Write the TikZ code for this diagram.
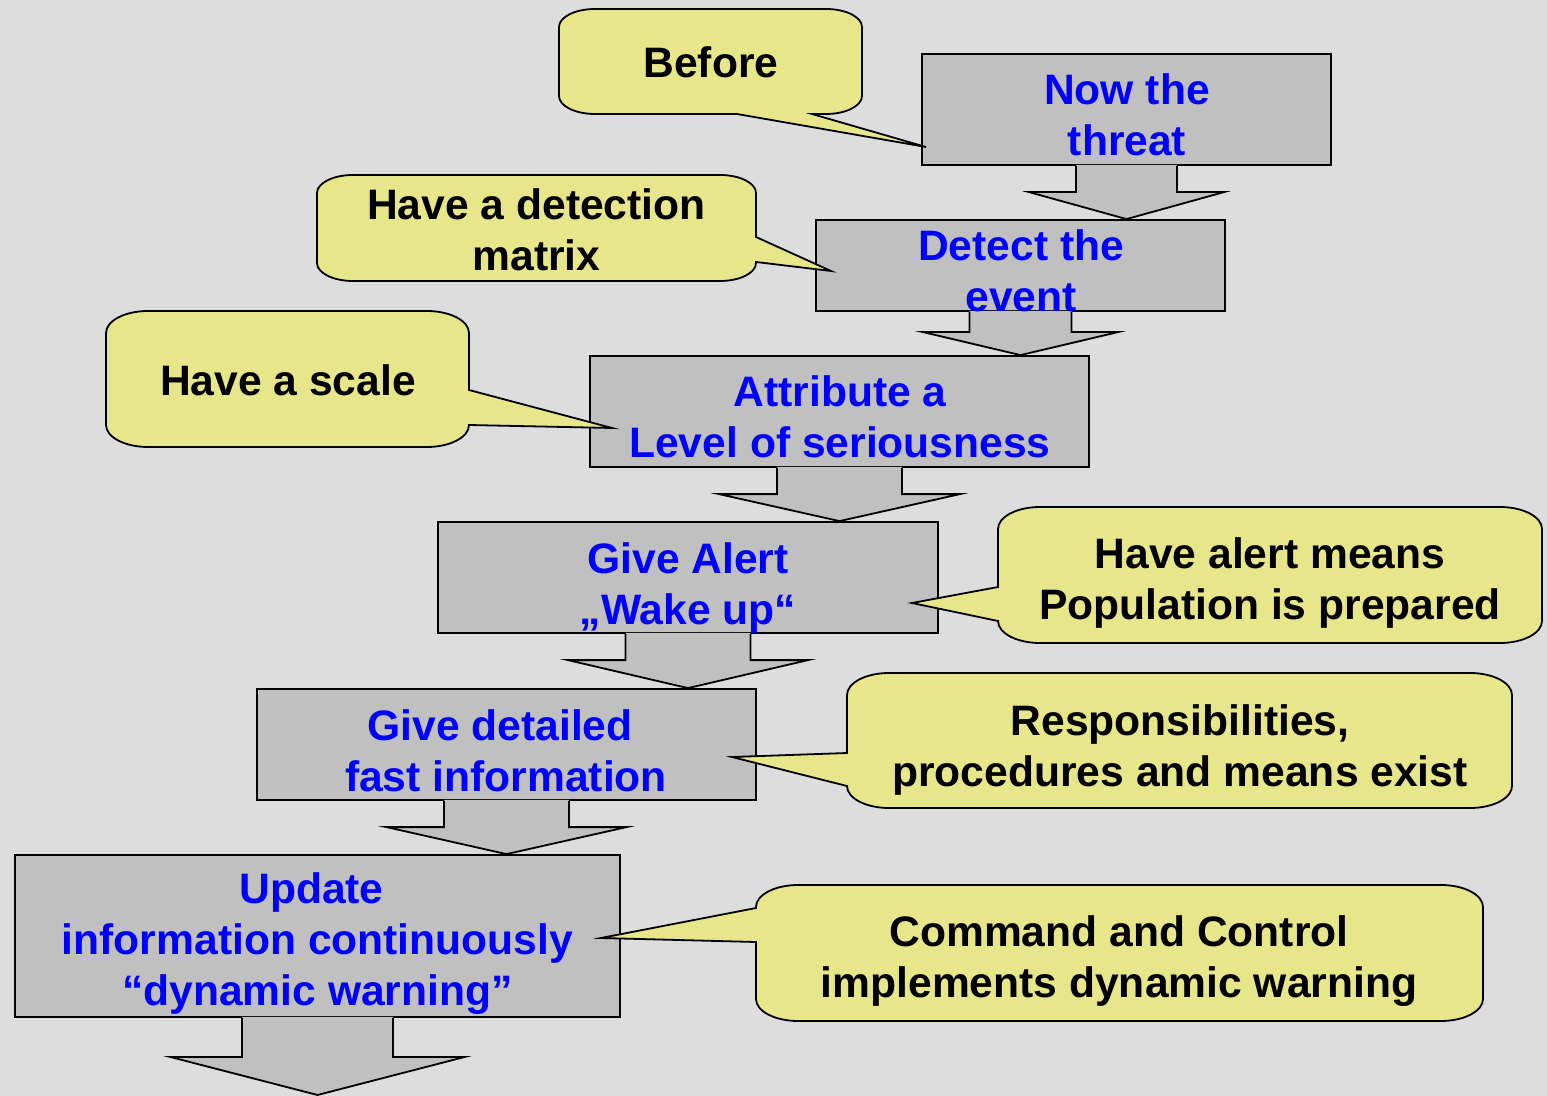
\documentclass[tikz,border=0pt]{standalone}
\usepackage{fontspec}
\setmainfont{Liberation Sans}
\usetikzlibrary{calc,fit}
\definecolor{bg}{HTML}{DDDDDD}
\definecolor{boxgray}{HTML}{C0C0C0}
\definecolor{callyellow}{HTML}{E8E68A}
\definecolor{txtblue}{HTML}{0000FF}
\tikzset{
  box/.style={draw=black, fill=boxgray, line width=0.9pt, inner sep=0pt},
  callout/.style={draw=black, fill=callyellow, line width=0.9pt, line join=miter},
  arrline/.style={draw=black, line width=0.9pt, line join=miter},
  btext/.style={font=\fontsize{21.3}{25.5}\selectfont\bfseries, text=txtblue, align=center, anchor=base, inner sep=0pt},
  ktext/.style={btext, text=black},
  rs/.style={x radius=36, y radius=18},
  rl/.style={x radius=42, y radius=22},
}
\newcommand\blockarr[5]{%
  \coordinate (tmpT) at (#1.south |- #2);
  \fill[boxgray] ($(#1.south)+(-#3,1)$) -- ($(tmpT)+(-#3,#5)$) -- ($(tmpT)+(-#4,#5)$) -- (tmpT) -- ($(tmpT)+(#4,#5)$) -- ($(tmpT)+(#3,#5)$) -- ($(#1.south)+(#3,1)$) -- cycle;
  \draw[arrline] ($(#1.south)+(-#3,0)$) -- ($(tmpT)+(-#3,#5)$) -- ($(tmpT)+(-#4,#5)$) -- (tmpT) -- ($(tmpT)+(#4,#5)$) -- ($(tmpT)+(#3,#5)$) -- ($(#1.south)+(#3,0)$);
}
\begin{document}
\begin{tikzpicture}[x=0.5pt,y=0.5pt]
\useasboundingbox (0,0) rectangle (1547,-1096);
\fill[bg] (0,0) rectangle (1547,-1096);

% process boxes
\node[box, fit={(922,-54) (1331,-165)}] (b1) {};
\node[box, fit={(816,-220) (1225,-311)}] (b2) {};
\node[box, fit={(590,-356) (1089,-467)}] (b3) {};
\node[box, fit={(438,-522) (938,-633)}] (b4) {};
\node[box, fit={(257,-689) (756,-800)}] (b5) {};
\node[box, fit={(15,-855) (620,-1017)}] (b6) {};
\coordinate (end) at (317.5,-1095);

% block arrows
\blockarr{b1}{b2.north}{50.5}{97.5}{27}
\blockarr{b2}{b3.north}{51}{97.5}{23}
\blockarr{b3}{b4.north}{62.5}{120.5}{27}
\blockarr{b4}{b5.north}{62.5}{120}{28}
\blockarr{b5}{b6.north}{62.5}{120}{27}
\blockarr{b6}{end}{75.5}{147}{38}

% callouts
\draw[callout] (595,-9) -- (826,-9) arc[rs,start angle=90,end angle=0] -- (862,-96) arc[rs,start angle=0,end angle=-90] -- (812,-114) -- (926,-147) -- (737,-114) -- (595,-114) arc[rs,start angle=270,end angle=180] -- (559,-27) arc[rs,start angle=180,end angle=90] -- cycle;
\draw[callout] (353,-175) -- (720,-175) arc[rs,start angle=90,end angle=0] -- (756,-237) -- (831,-271) -- (756,-262) -- (756,-263) arc[rs,start angle=0,end angle=-90] -- (353,-281) arc[rs,start angle=270,end angle=180] -- (317,-193) arc[rs,start angle=180,end angle=90] -- cycle;
\draw[callout] (148,-311) -- (427,-311) arc[rl,start angle=90,end angle=0] -- (469,-390) -- (612,-428) -- (469,-425) arc[rl,start angle=0,end angle=-90] -- (148,-447) arc[rl,start angle=270,end angle=180] -- (106,-333) arc[rl,start angle=180,end angle=90] -- cycle;
\draw[callout] (1040,-507) -- (1500,-507) arc[rl,start angle=90,end angle=0] -- (1542,-621) arc[rl,start angle=0,end angle=-90] -- (1040,-643) arc[rl,start angle=270,end angle=180] -- (912,-603) -- (998,-587) -- (998,-529) arc[rl,start angle=180,end angle=90] -- cycle;
\draw[callout] (889,-673) -- (1470,-673) arc[rl,start angle=90,end angle=0] -- (1512,-786) arc[rl,start angle=0,end angle=-90] -- (889,-808) arc[rl,start angle=270,end angle=180] -- (732,-757) -- (847,-753) -- (847,-695) arc[rl,start angle=180,end angle=90] -- cycle;
\draw[callout] (798,-885) -- (1441,-885) arc[rl,start angle=90,end angle=0] -- (1483,-999) arc[rl,start angle=0,end angle=-90] -- (798,-1021) arc[rl,start angle=270,end angle=180] -- (756,-942) -- (601,-938) -- (756,-908) -- (756,-907) arc[rl,start angle=180,end angle=90] -- cycle;

% texts (anchor base = baseline of the last line)
\node[ktext] (tA) at (711,-78) {Before};
\node[btext] (t1) at (1127,-156) {Now the\\threat};
\node[ktext] (tB) at (536.5,-271) {Have a detection\\matrix};
\node[btext] (t2) at (1021,-312) {Detect the\\event};
\node[ktext] (tC) at (288,-396) {Have a scale};
\node[btext] (t3) at (840,-458) {Attribute a\\Level of seriousness};
\node[btext] (t4) at (688,-624) {Give Alert\\„Wake up“};
\node[ktext] (tD) at (1270,-619) {Have alert means\\Population is prepared};
\node[btext] (t5) at (506,-791) {Give detailed\hspace*{6pt}\\fast information};
\node[ktext] (tE) at (1180,-786) {Responsibilities,\\procedures and means exist};
\node[btext] (t6) at (317.5,-1005) {Update\hspace*{6pt}\\information continuously\\“dynamic warning”};
\node[ktext] (tF) at (1119,-997) {Command and Control\\implements dynamic warning};
\end{tikzpicture}
\end{document}
